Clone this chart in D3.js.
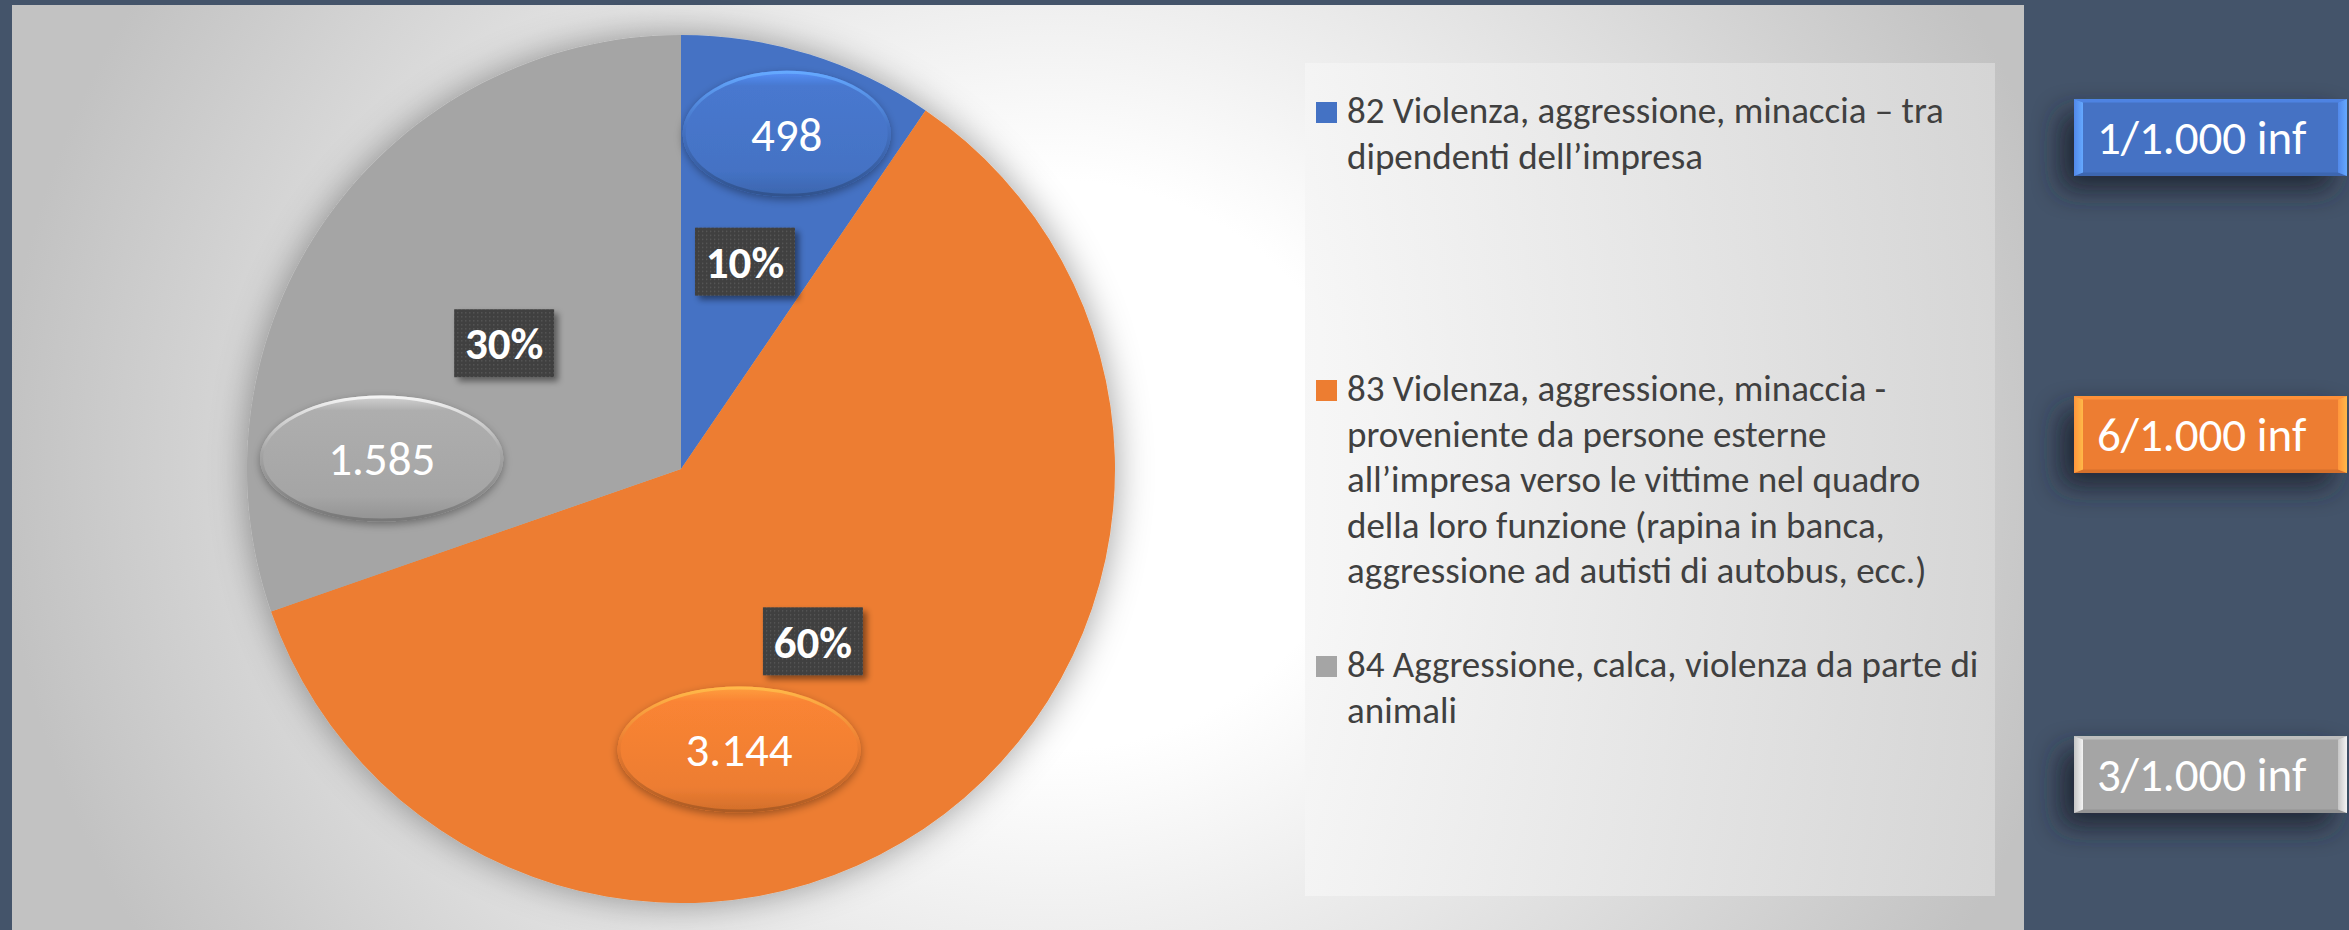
<!DOCTYPE html>
<html>
<head>
<meta charset="utf-8">
<script src="https://cdn.jsdelivr.net/npm/d3@7"></script>
<style>
  html, body { margin: 0; padding: 0; background: #44546a; }
  svg { display: block; }
  text { font-family: Calibri, Carlito, Lato, sans-serif; }
</style>
</head>
<body>
<svg id="chart" width="2349" height="930"></svg>
<script>
// ---- data ----
const categories = [
  '82 Violenza, aggressione, minaccia – tra dipendenti dell’impresa',
  '83 Violenza, aggressione, minaccia - proveniente da persone esterne all’impresa verso le vittime nel quadro della loro funzione (rapina in banca, aggressione ad autisti di autobus, ecc.)',
  '84 Aggressione, calca, violenza da parte di animali'
];
// legend text, wrapped as in the original
const legendLines = [
  ['82 Violenza, aggressione, minaccia – tra', 'dipendenti dell’impresa'],
  ['83 Violenza, aggressione, minaccia -', 'proveniente da persone esterne',
   'all’impresa verso le vittime nel quadro', 'della loro funzione (rapina in banca,',
   'aggressione ad autisti di autobus, ecc.)'],
  ['84 Aggressione, calca, violenza da parte di', 'animali']
];
const values = [498, 3144, 1585];
const rateLabels = ['1/1.000 inf', '6/1.000 inf', '3/1.000 inf'];
const colors = ['#4472c4', '#ed7d31', '#a5a5a5'];

// ---- layout ----
const W = 2349, H = 930;
const plot = { x: 12, y: 5, w: 2012, h: 925 };
const cx = 681, cy = 469, R = 434;
// value callouts were dragged by hand in the original: [angle deg, fraction of R]
const valueLabelPolar = [[17.5, 0.81], [168.3, 0.66], [272, 0.69]];
const legendBox = { x: 1305, y: 63, w: 690, h: 833 };
const legendBaseline = [123, 401, 677];
const legendLineH = 45.5;
const rateBoxY = [99, 396, 736];

const itFmt = d3.formatLocale({ decimal: ',', thousands: '.', grouping: [3], currency: ['€', ''] }).format(',d');
const pctFmt = d3.format('.0%');
const total = d3.sum(values);

const svg = d3.select('#chart');
const defs = svg.append('defs');

// background gradient of the plot area
const bg = defs.append('radialGradient')
  .attr('id', 'bg').attr('gradientUnits', 'userSpaceOnUse')
  .attr('cx', 1050).attr('cy', 465).attr('r', 1000)
  .attr('gradientTransform', 'translate(1050,465) scale(1.05,0.95) translate(-1050,-465)');
bg.append('stop').attr('offset', '0%').attr('stop-color', '#ffffff');
bg.append('stop').attr('offset', '30%').attr('stop-color', '#ffffff');
bg.append('stop').attr('offset', '100%').attr('stop-color', '#c2c2c2');

const lg = defs.append('linearGradient').attr('id', 'legbg');
lg.append('stop').attr('offset', '0%').attr('stop-color', '#f5f5f5');
lg.append('stop').attr('offset', '100%').attr('stop-color', '#d8d8d8');

// soft shadows
const pieShadow = defs.append('filter').attr('id', 'pieShadow')
  .attr('x', '-20%').attr('y', '-20%').attr('width', '140%').attr('height', '140%');
pieShadow.append('feDropShadow').attr('dx', 0).attr('dy', 0)
  .attr('stdDeviation', 18).attr('flood-color', '#000').attr('flood-opacity', 0.38);

const boxShadow = defs.append('filter').attr('id', 'boxShadow')
  .attr('x', '-30%').attr('y', '-30%').attr('width', '160%').attr('height', '160%');
boxShadow.append('feDropShadow').attr('dx', 4).attr('dy', 4)
  .attr('stdDeviation', 3).attr('flood-color', '#000').attr('flood-opacity', 0.45);

const ellShadow = defs.append('filter').attr('id', 'ellShadow')
  .attr('x', '-30%').attr('y', '-30%').attr('width', '160%').attr('height', '160%');
ellShadow.append('feDropShadow').attr('dx', 0).attr('dy', 3)
  .attr('stdDeviation', 4).attr('flood-color', '#000').attr('flood-opacity', 0.35);

const rateShadow = defs.append('filter').attr('id', 'rateShadow')
  .attr('x', '-40%').attr('y', '-60%').attr('width', '180%').attr('height', '220%');
rateShadow.append('feDropShadow').attr('dx', -14).attr('dy', 14)
  .attr('stdDeviation', 14).attr('flood-color', '#1c2430').attr('flood-opacity', 0.9);

// dotted dark fill for the percent boxes
const pat = defs.append('pattern').attr('id', 'dots')
  .attr('patternUnits', 'userSpaceOnUse').attr('width', 4).attr('height', 4);
pat.append('rect').attr('width', 4).attr('height', 4).attr('fill', '#3f3f3f');
pat.append('rect').attr('x', 1).attr('y', 1).attr('width', 1.3).attr('height', 1.3).attr('fill', '#5c5c5c');

// per-colour gradients for the bubbles and bevels
colors.forEach((c, i) => {
  const base = d3.color(c);
  const g = defs.append('linearGradient').attr('id', `ell-${i}`)
    .attr('x1', 0).attr('y1', 0).attr('x2', 0).attr('y2', 1);
  g.append('stop').attr('offset', '0%').attr('stop-color', base.brighter(0.7));
  g.append('stop').attr('offset', '12%').attr('stop-color', base.brighter(0.15));
  g.append('stop').attr('offset', '80%').attr('stop-color', base);
  g.append('stop').attr('offset', '100%').attr('stop-color', base.darker(0.35));

  const s = defs.append('linearGradient').attr('id', `ellStroke-${i}`)
    .attr('x1', 0).attr('y1', 0).attr('x2', 0).attr('y2', 1);
  s.append('stop').attr('offset', '0%').attr('stop-color', base.brighter(1.1));
  s.append('stop').attr('offset', '45%').attr('stop-color', base);
  s.append('stop').attr('offset', '100%').attr('stop-color', base.darker(0.9));

  const b = defs.append('linearGradient').attr('id', `bevel-${i}`);
  b.append('stop').attr('offset', '0%').attr('stop-color', base.brighter(0.5));
  b.append('stop').attr('offset', '100%').attr('stop-color', base.brighter(1.1));
});

// ---- backgrounds ----
svg.append('rect').attr('width', W).attr('height', H).attr('fill', '#44546a');
svg.append('rect')
  .attr('x', plot.x).attr('y', plot.y).attr('width', plot.w).attr('height', plot.h)
  .attr('fill', 'url(#bg)');
svg.append('rect')
  .attr('x', legendBox.x).attr('y', legendBox.y).attr('width', legendBox.w).attr('height', legendBox.h)
  .attr('fill', 'url(#legbg)').attr('opacity', 0.85);

// ---- pie ----
const pie = d3.pie().sort(null).value(d => d);
const arcs = pie(values);
const arc = d3.arc().innerRadius(0).outerRadius(R);

const pieG = svg.append('g').attr('transform', `translate(${cx},${cy})`);
pieG.append('g').attr('filter', 'url(#pieShadow)')
  .selectAll('path')
  .data(arcs)
  .join('path')
  .attr('d', arc)
  .attr('fill', (d, i) => colors[i]);

// percent boxes at the slice centroids
const pctG = pieG.selectAll('.pct')
  .data(arcs)
  .join('g')
  .attr('class', 'pct')
  .attr('transform', d => `translate(${arc.centroid(d)})`);
pctG.append('rect')
  .attr('x', -50).attr('y', -34).attr('width', 100).attr('height', 68)
  .attr('fill', 'url(#dots)')
  .attr('filter', 'url(#boxShadow)');
pctG.append('text')
  .attr('text-anchor', 'middle').attr('dy', '0.36em')
  .attr('fill', '#ffffff').attr('font-weight', 700).attr('font-size', 45)
  .text(d => pctFmt(d.value / total));

// value bubbles
const valG = pieG.selectAll('.val')
  .data(arcs)
  .join('g')
  .attr('class', 'val')
  .attr('transform', (d, i) => {
    const [deg, f] = valueLabelPolar[i];
    const a = deg * Math.PI / 180;
    return `translate(${Math.sin(a) * R * f},${-Math.cos(a) * R * f})`;
  });
valG.append('text')
  .attr('class', 'valtxt')
  .attr('text-anchor', 'middle').attr('dy', '0.36em')
  .attr('fill', '#ffffff').attr('font-size', 47)
  .text(d => itFmt(d.value));
valG.each(function(d, i) {
  const g = d3.select(this);
  const tw = g.select('text').node().getComputedTextLength();
  const rx = Math.max(104, tw / 2 + 68), ry = 63;
  g.insert('ellipse', 'text')
    .attr('rx', rx).attr('ry', ry)
    .attr('fill', `url(#ell-${i})`)
    .attr('filter', 'url(#ellShadow)');
  g.insert('ellipse', 'text')
    .attr('rx', rx - 1.5).attr('ry', ry - 1.5)
    .attr('fill', 'none')
    .attr('stroke', `url(#ellStroke-${i})`).attr('stroke-width', 3);
});

// ---- legend ----
const legG = svg.selectAll('.leg')
  .data(categories)
  .join('g')
  .attr('class', 'leg')
  .attr('transform', (d, i) => `translate(1316,${legendBaseline[i]})`);
legG.append('rect')
  .attr('x', 0).attr('y', -21).attr('width', 21).attr('height', 21)
  .attr('fill', (d, i) => colors[i]);
legG.append('text')
  .attr('x', 31)
  .attr('fill', '#404040').attr('font-size', 37)
  .selectAll('tspan')
  .data((d, i) => legendLines[i])
  .join('tspan')
  .attr('x', 31)
  .attr('y', (d, j) => j * legendLineH)
  .text(d => d);

// ---- rate boxes on the right ----
const bx = 2074, bw = 273, bh = 77, bev = 9;
const rateG = svg.selectAll('.rate')
  .data(rateLabels)
  .join('g')
  .attr('class', 'rate')
  .attr('transform', (d, i) => `translate(${bx},${rateBoxY[i]})`);
rateG.append('rect')
  .attr('width', bw).attr('height', bh)
  .attr('fill', (d, i) => colors[i])
  .attr('filter', 'url(#rateShadow)');
rateG.append('path')
  .attr('d', `M0,0 L${bw},0 L${bw - bev},${bev * 0.4} L${bev},${bev * 0.4} Z`)
  .attr('fill', (d, i) => d3.color(colors[i]).brighter(0.4));
rateG.append('path')
  .attr('d', `M0,${bh} L${bw},${bh} L${bw - bev},${bh - bev * 0.4} L${bev},${bh - bev * 0.4} Z`)
  .attr('fill', (d, i) => d3.color(colors[i]).darker(0.3));
rateG.append('path')
  .attr('d', `M0,0 L${bev},${bev * 0.4} L${bev},${bh - bev * 0.4} L0,${bh} Z`)
  .attr('fill', (d, i) => `url(#bevel-${i})`);
rateG.append('path')
  .attr('d', `M${bw},0 L${bw - bev},${bev * 0.4} L${bw - bev},${bh - bev * 0.4} L${bw},${bh} Z`)
  .attr('fill', (d, i) => `url(#bevel-${i})`);
rateG.append('text')
  .attr('x', 23).attr('y', 55)
  .attr('fill', '#ffffff').attr('font-size', 47)
  .text(d => d);
</script>
</body>
</html>
